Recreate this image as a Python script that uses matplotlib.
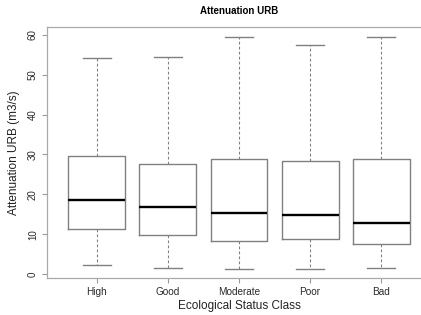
import matplotlib
matplotlib.use('Agg')
import matplotlib.pyplot as plt

# values
classes = ['High', 'Good', 'Moderate', 'Poor', 'Bad']
whislo = [2.2, 1.5, 1.2, 1.2, 1.6]
q1 = [11.3, 9.7, 8.3, 8.8, 7.6]
med = [18.7, 16.7, 15.3, 14.9, 12.8]
q3 = [29.5, 27.7, 28.8, 28.3, 28.8]
whishi = [54.2, 54.4, 59.6, 57.6, 59.5]
yticks = [0, 10, 20, 30, 40, 50, 60]


def main():
	plt.rcParams['font.family'] = ['Liberation Sans', 'DejaVu Sans']

	fig = plt.figure(figsize=(4.21, 3.15), dpi=100)
	ax = fig.add_axes([47 / 421, 1 - 278 / 315, 384 / 421, 251 / 315])

	stats = []
	for i in range(len(classes)):
		stats.append({'label': classes[i], 'whislo': whislo[i], 'q1': q1[i],
			'med': med[i], 'q3': q3[i], 'whishi': whishi[i], 'fliers': []})

	grey = '#808080'
	ax.bxp(stats, positions=range(1, len(classes) + 1), widths=0.8,
		showfliers=False, patch_artist=False,
		boxprops=dict(color=grey, linewidth=1.0),
		medianprops=dict(color='black', linewidth=1.7),
		whiskerprops=dict(color=grey, linewidth=0.8, linestyle=(0, (2.5, 2))),
		capprops=dict(color=grey, linewidth=1.0),
		capwidths=0.4)

	ax.set_xlim(0.3, 5.7)
	ax.set_ylim(-1.0, 62.0)
	ax.set_yticks(yticks)
	ax.set_yticklabels([str(t) for t in yticks], rotation=90, va='center', fontsize=7, color='#2a2a2a')
	ax.set_xticks(range(1, len(classes) + 1))
	ax.set_xticklabels(classes, fontsize=7.2, color='#2a2a2a')
	ax.tick_params(axis='both', length=3.5, width=0.8, color='#999999', pad=3)

	for s in ax.spines.values():
		s.set_color('#aaaaaa')
		s.set_linewidth(0.9)
	ax.spines['right'].set_visible(False)

	ax.set_xlabel('Ecological Status Class', fontsize=8.5, color='#222222', labelpad=2)
	ax.set_ylabel('Attenuation URB (m3/s)', fontsize=8.5, color='#222222', labelpad=6)
	ax.set_title('Attenuation URB', fontsize=7, fontweight='bold', pad=9)

	fig.savefig('out.png', dpi=100)


if __name__ == '__main__':
	main()
